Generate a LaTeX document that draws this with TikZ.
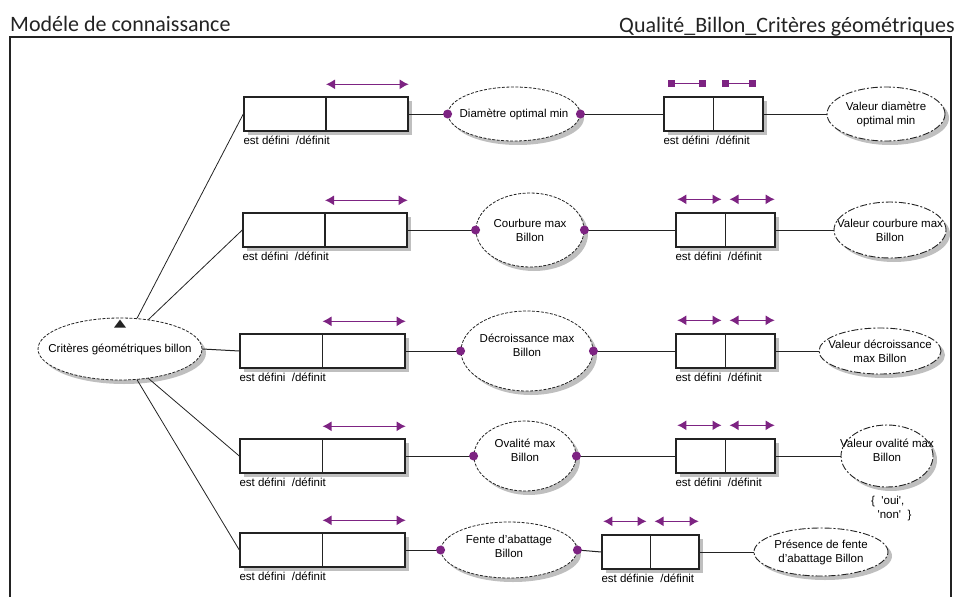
\documentclass[tikz,border=0pt]{standalone}
\usepackage{fontspec}
\setmainfont{Liberation Sans}
\newfontfamily\titlefont{Carlito}
\usetikzlibrary{shapes.geometric,shadows,arrows.meta,calc}
\definecolor{purp}{RGB}{125,35,130}
\definecolor{ink}{RGB}{35,35,35}
\begin{document}
\begin{tikzpicture}[x=1pt,y=-1pt,
  font=\fontsize{11.5}{13}\selectfont,
  shad/.style={drop shadow={shadow xshift=4pt,shadow yshift=-4pt,fill=black!25,opacity=1}},
  box/.style={draw=ink,line width=1.4pt,fill=white,minimum height=34pt,inner sep=0pt,shad},
  midell/.style={ellipse,draw=ink,line width=0.8pt,dash pattern=on 3pt off 1.5pt,fill=white,inner sep=0pt,shad},
  valell/.style={ellipse,draw=ink,line width=0.9pt,dash pattern=on 7pt off 2pt on 2pt off 2pt,fill=white,inner sep=0pt,shad},
  txt/.style={align=center,inner sep=0pt,font=\fontsize{11.5}{14}\selectfont},
  lbl/.style={anchor=north west,inner sep=0pt},
  link/.style={draw=ink,line width=1pt},
  slink/.style={draw=ink,line width=0.8pt},
  parr/.style={draw=purp,line width=1.3pt,{Latex[length=9pt,width=10pt]}-{Latex[length=9pt,width=10pt]}},
  sqarr/.style={draw=purp,line width=1.3pt,{Square[length=7pt,width=7pt]}-{Square[length=7pt,width=7pt]}},
  pdot/.style={fill=purp}
]
\useasboundingbox (0,0) rectangle (956,597);
% frame and titles
\draw[ink,line width=1.2pt] (10,597) -- (10,37) -- (951,37) -- (951,597);
\node[anchor=base west,inner sep=0pt,text=ink,font=\titlefont\fontsize{22}{25}\selectfont] (t1) at (10,31) {Modéle de connaissance};
\node[anchor=base east,inner sep=0pt,text=ink,font=\titlefont\fontsize{22}{25}\selectfont] (t2) at (955,32) {Qualité\_Billon\_Critères géométriques};

% root
\node[midell,minimum width=164pt,minimum height=62pt,label={[txt]center:Critères géométriques billon}] (crit) at (120,349) {};
\fill[ink] ($(crit.north)+(0,2)$) -- ++(6,8) -- ++(-12,0) -- cycle;

% row 1
\node[box,minimum width=164pt] (r1a) at (326,114) {};
\node[midell,minimum width=132pt,minimum height=54pt,label={[txt]center:Diamètre optimal min}] (m1) at (514,114) {};
\node[box,minimum width=99pt] (r1b) at (713.5,114) {};
\node[valell,minimum width=118pt,minimum height=54pt,label={[txt]center:Valeur diamètre\\optimal min}] (v1) at (886,114) {};

% row 2
\node[box,minimum width=164pt] (r2a) at (325,230) {};
\node[midell,minimum width=108pt,minimum height=74pt,label={[txt]center:Courbure max\\Billon}] (m2) at (530,230) {};
\node[box,minimum width=99pt] (r2b) at (725.5,230) {};
\node[valell,minimum width=112pt,minimum height=56pt,label={[txt]center:Valeur courbure max\\Billon}] (v2) at (890,230) {};

% row 3
\node[box,minimum width=165pt] (r3a) at (322.5,351) {};
\node[midell,minimum width=132pt,minimum height=80pt,label={[txt,yshift=6pt]center:Décroissance max\\Billon}] (m3) at (527,351) {};
\node[box,minimum width=99pt] (r3b) at (725.5,351) {};
\node[valell,minimum width=122pt,minimum height=46pt,label={[txt]center:Valeur décroissance\\max Billon}] (v3) at (880,351) {};

% row 4
\node[box,minimum width=165pt] (r4a) at (322.5,456) {};
\node[midell,minimum width=102pt,minimum height=70pt,label={[txt,yshift=6pt]center:Ovalité max\\Billon}] (m4) at (525,456) {};
\node[box,minimum width=99pt] (r4b) at (725.5,456) {};
\node[valell,minimum width=92pt,minimum height=62pt,label={[txt,yshift=6pt]center:Valeur ovalité max\\Billon}] (v4) at (887,456) {};
\node[txt,align=left,anchor=north west] (opts) at (871,496) {\{\ \ \textquotesingle oui\textquotesingle,\\\ \ \textquotesingle non\textquotesingle\ \ \}};

% row 5
\node[box,minimum width=165pt] (r5a) at (322.5,550) {};
\node[midell,minimum width=136pt,minimum height=56pt,label={[txt,yshift=4pt]center:Fente d'abattage\\Billon}] (m5) at (509,550) {};
\node[box,minimum width=97pt] (r5b) at (650.5,552) {};
\node[valell,minimum width=134pt,minimum height=48pt,label={[txt]center:Présence de fente\\d'abattage Billon}] (v5) at (821,552) {};

% dividers, labels, arrows on boxes
\foreach \b in {r1a,r2a,r3a,r4a,r5a,r1b,r2b,r3b,r4b}{
  \draw[ink,line width=1.4pt] (\b.north) -- (\b.south);
  \node[lbl] (\b l) at ([yshift=-4pt]\b.south west) {est défini\ \ /définit};
}
\draw[ink,line width=1.4pt] (r5b.north) -- (r5b.south);
\node[lbl] (r5bl) at ([yshift=-4pt]r5b.south west) {est définie\ \ /définit};

\foreach \b in {r1a,r2a,r3a,r4a,r5a}{
  \draw[parr] ([yshift=12pt]\b.north) -- ([yshift=12pt]\b.north east);
}
\draw[sqarr] ([xshift=5pt,yshift=13pt]r1b.north west) -- ([xshift=-8pt,yshift=13pt]r1b.north);
\draw[sqarr] ([xshift=8pt,yshift=13pt]r1b.north) -- ([xshift=-8pt,yshift=13pt]r1b.north east);
\foreach \b in {r2b,r3b,r4b,r5b}{
  \draw[parr] ([xshift=2pt,yshift=13pt]\b.north west) -- ([xshift=-4pt,yshift=13pt]\b.north);
  \draw[parr] ([xshift=4pt,yshift=13pt]\b.north) -- ([xshift=-1pt,yshift=13pt]\b.north east);
}

% connectors root -> boxes
\draw[slink] (crit.61) -- (r1a.west);
\draw[slink] (crit.46) -- (r2a.west);
\draw[link] (crit.east) -- (r3a.west);
\draw[slink] (crit.-46) -- (r4a.west);
\draw[slink] (crit.-61) -- (r5a.west);

% row connectors
\foreach \i in {1,...,5}{
  \draw[link] (r\i a.east) -- (m\i.west);
  \draw[link] (m\i.east) -- (r\i b.west);
  \draw[link] (r\i b.east) -- (v\i.west);
  \fill[pdot] (m\i.west) circle (4.5pt);
  \fill[pdot] (m\i.east) circle (4.5pt);
}
\end{tikzpicture}
\end{document}
